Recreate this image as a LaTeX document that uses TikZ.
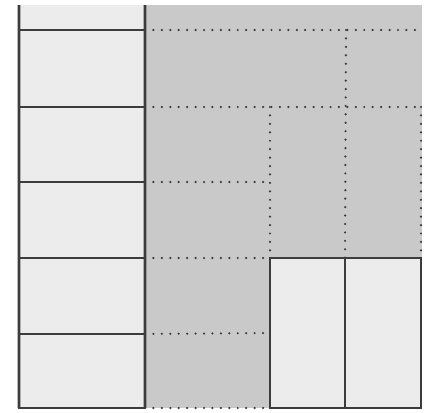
\documentclass[tikz,border=0pt]{standalone}
\definecolor{cellgrey}{RGB}{236,236,236}
\definecolor{shadegrey}{RGB}{201,201,201}
\definecolor{linegrey}{RGB}{60,60,60}
\usetikzlibrary{positioning}

\begin{document}
\begin{tikzpicture}[x=0.02cm, y=-0.02cm,
        cell/.style={draw=linegrey, line width=1.6pt, fill=cellgrey, rectangle, inner sep=0pt, outer sep=0pt},
        edge/.style={linegrey, line width=1.6pt},
        gridline/.style={linegrey, line width=1.4pt, line cap=round, dash pattern=on 0pt off 4.8pt}]
        \useasboundingbox (0,0) rectangle (424,413);
        % shaded block and left column
        \fill[shadegrey] (145,5) rectangle (422,408);
        \fill[cellgrey] (19,5) rectangle (145,30);
        \foreach \i/\t/\b in {1/30/107, 2/107/182, 3/182/258, 4/258/334, 5/334/408} {
            \node[cell, minimum width=2.52cm, minimum height={(\b-\t)*0.02cm}]
                at (82,{(\t+\b)/2}) (c\i) {};
        }
        \draw[edge] (19,5) -- (c5.south west);
        \draw[edge] (145,5) -- (c5.south east);
        % two boxes bottom right
        \node[cell, minimum width=1.5cm, minimum height=3cm] at (307.5,333) (r1) {};
        \node[cell, minimum width=1.52cm, minimum height=3cm] at (383,333) (r2) {};
        % dotted grid
        \draw[gridline] (c1.north east) -- (421,30);
        \draw[gridline] (c2.north east) -- (421,107);
        \draw[gridline] (c3.north east) -- (270,182);
        \draw[gridline] (c4.north east) -- (r1.north west);
        \draw[gridline] (c5.north east) -- (r1.west);
        \draw[gridline] (c5.south east) -- (r1.south west);
        \draw[gridline] (346,30) -- (r1.north east);
        \draw[gridline] (270,107) -- (r1.north west);
        \draw[gridline] (421,107) -- (r2.north east);
\end{tikzpicture}
\end{document}
